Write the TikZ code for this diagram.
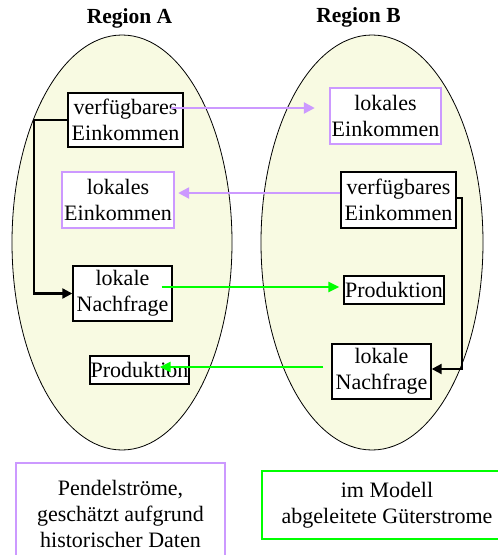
\documentclass[tikz,border=0pt]{standalone}
\usepackage{fontspec}
\setmainfont{Liberation Serif}
\usetikzlibrary{arrows.meta}
\definecolor{ellfill}{RGB}{248,250,226}
\definecolor{lilac}{RGB}{204,153,255}
\definecolor{brightgreen}{RGB}{0,255,0}
\tikzset{
  region/.style={draw=black, line width=0.8pt, fill=ellfill},
  blackbox/.style={draw=black, line width=1.4pt, fill=white, inner sep=0pt, align=center,
     font=\fontsize{22}{26}\selectfont},
  lilacbox/.style={draw=lilac, line width=2.4pt, fill=white, inner sep=0pt, align=center,
     font=\fontsize{22}{26}\selectfont},
  greenbox/.style={draw=brightgreen, line width=2.4pt, fill=white, inner sep=0pt, align=center,
     font=\fontsize{22}{26.5}\selectfont},
  title/.style={font=\fontsize{21.5}{25}\selectfont\bfseries},
  lilacarrow/.style={draw=lilac, line width=2.4pt, -{Triangle[length=11pt,width=11pt]}},
  greenarrow/.style={draw=brightgreen, line width=2.4pt, -{Triangle[length=11pt,width=10pt]}},
  blackarrow/.style={draw=black, line width=2.2pt, -{Triangle[length=10pt,width=10pt]}},
}
\begin{document}
\begin{tikzpicture}[x=1pt,y=-1pt]
\useasboundingbox (0,0) rectangle (498,555);
\clip (0,0) rectangle (498,555);
% titles
\node[title] (tA) at (129.5,18) {Region A};
\node[title] (tB) at (358.5,17) {Region B};
% ellipses
\draw[region] (122,242.5) ellipse [x radius=110, y radius=207.5];
\draw[region] (372,242.5) ellipse [x radius=111, y radius=207.5];
% region A boxes
\node[blackbox, minimum width=115, minimum height=54] (A1) at (125.5,120) {verfügbares\\Einkommen};
\node[lilacbox, minimum width=112, minimum height=56] (A2) at (118,200) {lokales\\Einkommen};
\node[blackbox, minimum width=99, minimum height=55] (A3) at (122.5,293.5) {lokale\\Nachfrage};
\node[blackbox, minimum width=99, minimum height=28] (A4) at (139.5,370) {Produktion};
% region B boxes
\node[lilacbox, minimum width=111, minimum height=56] (B1) at (385.5,116) {lokales\\Einkommen};
\node[blackbox, minimum width=115, minimum height=56] (B2) at (398.5,200) {verfügbares\\Einkommen};
\node[blackbox, minimum width=100, minimum height=28] (B3) at (394,290) {Produktion};
\node[blackbox, minimum width=99, minimum height=55] (B4) at (381.5,371.5) {lokale\\Nachfrage};
% legend
\node[lilacbox, minimum width=209, minimum height=102] (L1) at (120.5,514) {Pendelströme,\\geschätzt aufgrund\\historischer Daten};
\node[greenbox, minimum width=250, minimum height=68] (L2) at (387,505) {im Modell\\abgeleitete Güterstrome};
% connectors
\draw[blackarrow] (A1.west) -- ++(-33,0) |- (A3.west);
\draw[blackarrow] ([yshift=2pt]B2.east) -- ++(5,0) |- ([yshift=2.5pt]B4.east);
\draw[lilacarrow] ([xshift=-13pt,yshift=12pt]A1.east) -- ([xshift=-14pt,yshift=8pt]B1.west);
\draw[lilacarrow] ([yshift=7pt]B2.west) -- ([xshift=3pt,yshift=7pt]A2.east);
\draw[greenarrow] ([xshift=-11pt,yshift=6.5pt]A3.east) -- ([xshift=-4pt,yshift=3pt]B3.west);
\draw[greenarrow] ([xshift=-8pt,yshift=4.5pt]B4.west) -- ([xshift=-30pt,yshift=3pt]A4.east);
\end{tikzpicture}
\end{document}
